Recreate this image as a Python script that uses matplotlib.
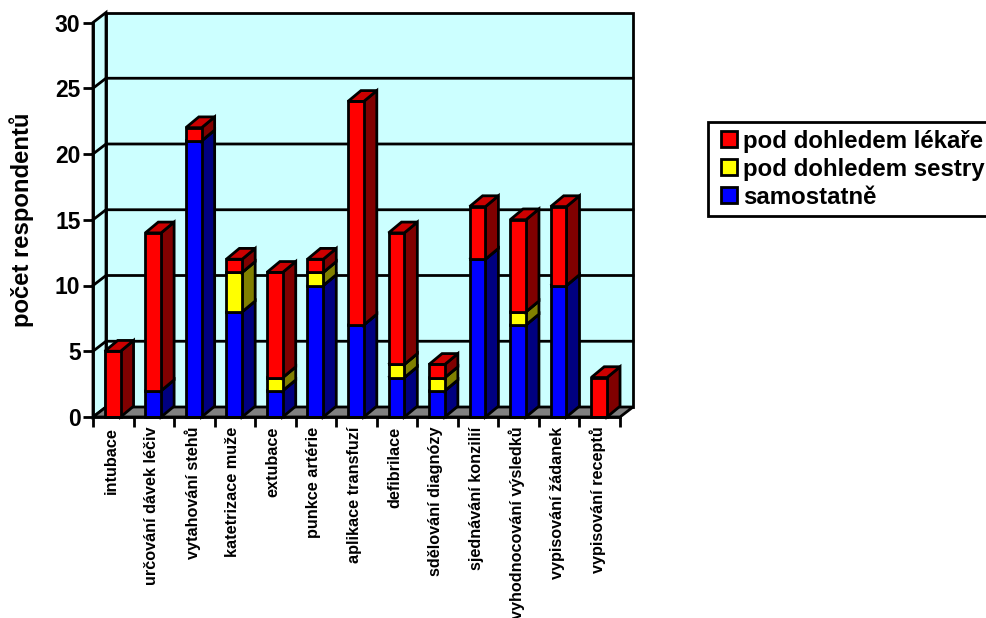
import matplotlib
matplotlib.use('Agg')
import matplotlib.pyplot as plt
from matplotlib.patches import Rectangle
from matplotlib.transforms import ScaledTranslation

plt.rcParams['font.family'] = ['Liberation Sans', 'DejaVu Sans']
plt.rcParams['font.weight'] = 'bold'

Categories = ['intubace', 'určování dávek léčiv', 'vytahování stehů', 'katetrizace muže',
              'extubace', 'punkce artérie', 'aplikace transfuzí', 'defibrilace',
              'sdělování diagnózy', 'sjednávání konzilií', 'vyhodnocování výsledků',
              'vypisování žádanek', 'vypisování receptů']
Samostatne = [0, 2, 21, 8, 2, 10, 7, 3, 2, 12, 7, 10, 0]
Sestry = [0, 0, 0, 3, 1, 1, 0, 1, 1, 0, 1, 0, 0]
Lekare = [5, 12, 1, 1, 8, 1, 17, 10, 1, 4, 7, 6, 3]
YTicks = [0, 5, 10, 15, 20, 25, 30]
LegendLabels = ['pod dohledem lékaře', 'pod dohledem sestry', 'samostatně']

# front, side, top colours for each stacked series
Blue = ('#0000FF', '#000080', '#0000CC')
Yellow = ('#FFFF00', '#808000', '#CCCC00')
Red = ('#FF0000', '#800000', '#CC0000')

W, H = 987, 618
Lw = 2
fig = plt.figure(figsize=(W / 100, H / 100), dpi=100)
ax = fig.add_axes([93 / W, 1 - 417 / H, 527 / W, 394.5 / H])
N = len(Categories)
ax.set_xlim(0, N)
ax.set_ylim(0, 30)

# oblique depth of the fake 3D box, in data units
DepthX = 13 / (527 / N)
WallDepthY = 10 / (394.5 / 30)
BarDepthY = 10.8 / (394.5 / 30)


def poly(Xs, Ys, Color, Z):
    ax.fill(Xs, Ys, facecolor=Color, edgecolor='black', linewidth=Lw, zorder=Z,
            clip_on=False, joinstyle='miter')


# walls and floor
poly([DepthX, N + DepthX, N + DepthX, DepthX],
     [WallDepthY, WallDepthY, 30 + WallDepthY, 30 + WallDepthY], '#CCFFFF', 1)
poly([0, DepthX, DepthX, 0], [0, WallDepthY, 30 + WallDepthY, 30], '#CCFFFF', 1)
poly([0, N, N + DepthX, DepthX], [0, 0, WallDepthY, WallDepthY], '#808080', 1)

for T in YTicks[1:-1]:
    ax.plot([0, DepthX, N + DepthX], [T, T + WallDepthY, T + WallDepthY], color='black',
            linewidth=Lw, zorder=2, clip_on=False)

# stacked boxes, drawn left to right so nearer faces overlap properly
Z = 3
BarLeft = 0.29
BarWidth = 0.39
for I in range(N):
    Bottom = 0
    X0 = I + BarLeft
    X1 = X0 + BarWidth
    for Vals, Cols in ((Samostatne, Blue), (Sestry, Yellow), (Lekare, Red)):
        V = Vals[I]
        if V == 0:
            continue
        Top = Bottom + V
        poly([X1, X1 + DepthX, X1 + DepthX, X1],
             [Bottom, Bottom + BarDepthY, Top + BarDepthY, Top], Cols[1], Z)
        poly([X0, X1, X1, X0], [Bottom, Bottom, Top, Top], Cols[0], Z)
        poly([X0, X1, X1 + DepthX, X0 + DepthX],
             [Top, Top, Top + BarDepthY, Top + BarDepthY], Cols[2], Z)
        Z += 1
        Bottom = Top

for Side in ('top', 'right'):
    ax.spines[Side].set_visible(False)
for Side in ('left', 'bottom'):
    ax.spines[Side].set_linewidth(Lw)
    ax.spines[Side].set_zorder(50)
ax.patch.set_alpha(0)

ax.set_yticks(YTicks)
ax.tick_params(axis='y', length=7.5, width=Lw, labelsize=16.5, pad=1.5)
ax.set_xticks(range(N + 1))
ax.set_xticklabels([])
ax.tick_params(axis='x', which='major', length=7.5, width=Lw)
ax.set_xticks([I + 0.5 for I in range(N)], minor=True)
ax.set_xticklabels(Categories, minor=True, rotation=90, fontsize=11.7, va='top', ha='center')
ax.tick_params(axis='x', which='minor', length=0, pad=7)

# category labels sit slightly left of their slot centres
Shift = ScaledTranslation(-1.5 / 72, 0, fig.dpi_scale_trans)
for Lab in ax.get_xticklabels(minor=True):
    Lab.set_transform(Lab.get_transform() + Shift)

fig.text(22 / W, 1 - 220 / H, 'počet respondentů', rotation=90, fontsize=17.2,
         ha='center', va='center')

# legend box runs up to the right edge of the figure
fig.add_artist(Rectangle((708 / W, 1 - 216 / H), 290 / W, 94 / H, transform=fig.transFigure,
                         facecolor='white', edgecolor='black', linewidth=Lw))
for Label, Cols, Y in zip(LegendLabels, (Red, Yellow, Blue), (139, 167, 195)):
    fig.add_artist(Rectangle((721 / W, 1 - (Y + 8) / H), 16 / W, 16 / H, transform=fig.transFigure,
                             facecolor=Cols[0], edgecolor='black', linewidth=Lw))
    fig.text(743 / W, 1 - Y / H, Label, fontsize=17.3, ha='left', va='center_baseline')

plt.savefig('out.png', dpi=100)
